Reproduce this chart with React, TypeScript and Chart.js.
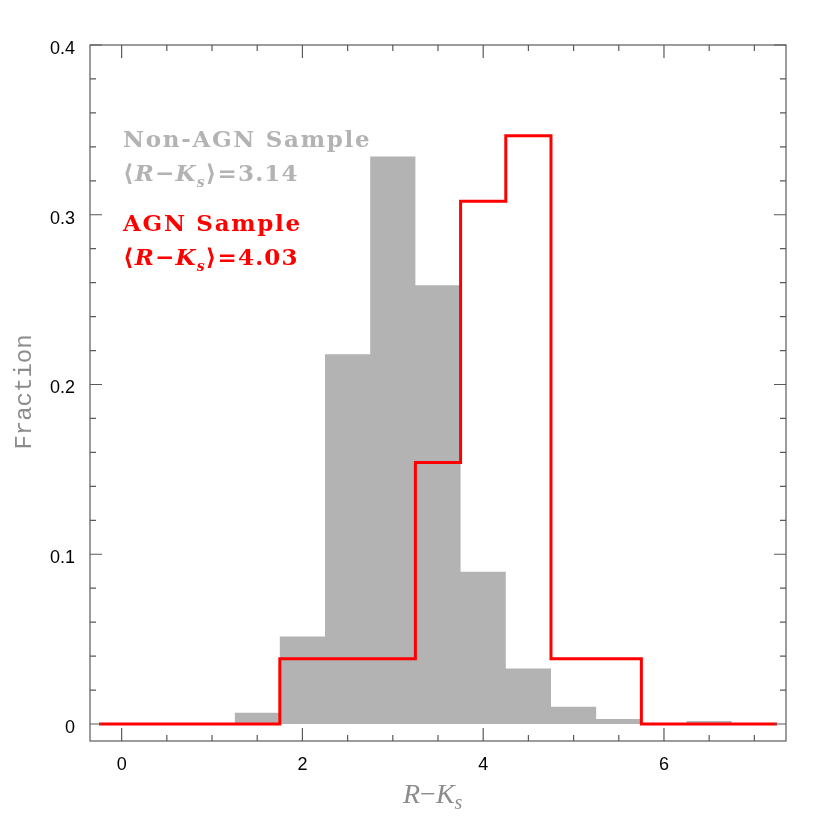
import React, { useEffect, useRef } from "react";
import { Chart, registerables } from "chart.js";

Chart.register(...registerables);

// ---- data ----
const nonAgnBinStarts = [1.25, 1.75, 2.25, 2.75, 3.25, 3.75, 4.25, 4.75, 5.25, 5.75, 6.25];
const nonAgnBinEnd = 6.75;
const nonAgnFractions = [0.0067, 0.0516, 0.2179, 0.3343, 0.2585, 0.0897, 0.0327, 0.0102, 0.003, 0, 0.0018];

const agnBinStarts = [-0.25, 1.75, 3.25, 3.75, 4.25, 4.75, 5.75];
const agnBinEnd = 7.25;
const agnFractions = [0, 0.0385, 0.154, 0.308, 0.3465, 0.0385, 0];

const xTickValues = [0, 2, 4, 6];
const xMinorStep = 0.5;
const yTickValues = [0, 0.1, 0.2, 0.3, 0.4];
const yMinorStep = 0.02;
const xRange = [-0.35, 7.35];
const yRange = [-0.01, 0.4];

const nonAgnTitle = "Non-AGN Sample";
const nonAgnMean = "3.14";
const agnTitle = "AGN Sample";
const agnMean = "4.03";
const yTitle = "Fraction";

// step points: value at each bin's left edge, plus the final right edge
function steps(starts: number[], end: number, vals: number[]) {
  const pts = starts.map((x, i) => ({ x, y: vals[i] }));
  pts.push({ x: end, y: vals[vals.length - 1] });
  return pts;
}

type Part = { t: string; font: string; dy?: number };
function drawParts(ctx: CanvasRenderingContext2D, parts: Part[], x: number, y: number, color: string) {
  ctx.fillStyle = color;
  ctx.textBaseline = "alphabetic";
  ctx.textAlign = "left";
  let cx = x;
  for (const p of parts) {
    ctx.font = p.font;
    ctx.fillText(p.t, cx, y + (p.dy || 0));
    cx += ctx.measureText(p.t).width;
  }
}

function meanParts(val: string, size: number, weight: string): Part[] {
  const fam = "'DejaVu Serif'";
  const n = `${weight} ${size}px ${fam}`;
  const it = `italic ${weight} ${size}px ${fam}`;
  const sub = `italic ${weight} ${Math.round(size * 0.62)}px ${fam}`;
  return [
    { t: "\u27E8", font: n },
    { t: "R", font: it },
    { t: "\u2212", font: n },
    { t: "K", font: it },
    { t: "s", font: sub, dy: 6 },
    { t: "\u27E9=" + val, font: n },
  ];
}

const framePlugin = {
  id: "frameTicks",
  afterDatasetsDraw(chart: any) {
    const ctx: CanvasRenderingContext2D = chart.ctx;
    const { left, right, top, bottom } = chart.chartArea;
    const xs = chart.scales.x;
    const ys = chart.scales.y;
    ctx.save();
    ctx.strokeStyle = "#5a5a5a";
    ctx.lineWidth = 1.2;
    ctx.strokeRect(left, top, right - left, bottom - top);
    ctx.beginPath();
    for (let v = Math.ceil(xRange[0] / xMinorStep) * xMinorStep; v <= xRange[1]; v += xMinorStep) {
      const px = xs.getPixelForValue(v);
      const major = xTickValues.some((t) => Math.abs(t - v) < 1e-6);
      const len = major ? 13 : 6;
      ctx.moveTo(px, bottom);
      ctx.lineTo(px, bottom - len);
      ctx.moveTo(px, top);
      ctx.lineTo(px, top + len);
    }
    for (let i = 0; i * yMinorStep <= yRange[1] + 1e-9; i++) {
      const v = i * yMinorStep;
      const py = ys.getPixelForValue(v);
      const major = yTickValues.some((t) => Math.abs(t - v) < 1e-6);
      const len = major ? 12 : 6;
      ctx.moveTo(left, py);
      ctx.lineTo(left + len, py);
      ctx.moveTo(right, py);
      ctx.lineTo(right - len, py);
    }
    ctx.stroke();

    // annotations
    const gray = "#b3b3b3";
    const red = "#ff0000";
    ctx.textBaseline = "alphabetic";
    (ctx as any).letterSpacing = "1.7px";
    ctx.fillStyle = gray;
    ctx.font = "bold 23px 'DejaVu Serif'";
    ctx.fillText(nonAgnTitle, 123, 147);
    ctx.fillStyle = red;
    ctx.fillText(agnTitle, 123, 231);
    (ctx as any).letterSpacing = "1.2px";
    drawParts(ctx, meanParts(nonAgnMean, 23, "bold"), 123, 181, gray);
    drawParts(ctx, meanParts(agnMean, 23, "bold"), 123, 265, red);
    (ctx as any).letterSpacing = "0px";

    // axis titles
    ctx.fillStyle = "#8c8c8c";
    ctx.save();
    ctx.translate(31, 392);
    ctx.rotate(-Math.PI / 2);
    ctx.font = "24px 'Liberation Mono'";
    ctx.textAlign = "center";
    ctx.textBaseline = "alphabetic";
    ctx.fillText(yTitle, 0, 0);
    ctx.restore();
    drawParts(
      ctx,
      [
        { t: "R", font: "italic 28px 'Liberation Serif'" },
        { t: "\u2212", font: "28px 'Liberation Serif'" },
        { t: "K", font: "italic 28px 'Liberation Serif'" },
        { t: "s", font: "italic 20px 'Liberation Serif'", dy: 6 },
      ],
      403,
      803,
      "#8c8c8c"
    );
    ctx.restore();
  },
};

export default function App() {
  const ref = useRef<HTMLCanvasElement | null>(null);
  useEffect(() => {
    if (!ref.current) return;
    const chart = new Chart(ref.current, {
      type: "line",
      data: {
        datasets: [
          {
            data: steps(agnBinStarts, agnBinEnd, agnFractions),
            stepped: "before",
            borderColor: "#ff0000",
            borderWidth: 3,
            pointRadius: 0,
            fill: false,
          },
          {
            data: steps(nonAgnBinStarts, nonAgnBinEnd, nonAgnFractions),
            stepped: "before",
            borderColor: "rgba(0,0,0,0)",
            borderWidth: 0,
            backgroundColor: "#b3b3b3",
            fill: "origin",
            pointRadius: 0,
          },
        ],
      },
      options: {
        animation: false,
        responsive: false,
        layout: { padding: { left: 0, top: 45, right: 44, bottom: 0 } },
        plugins: {
          legend: { display: false },
          tooltip: { enabled: false },
        },
        scales: {
          x: {
            type: "linear",
            min: xRange[0],
            max: xRange[1],
            grid: { display: false, drawTicks: false },
            border: { display: false },
            ticks: {
              color: "#000",
              font: { family: "'Liberation Sans'", size: 18 },
              padding: 13,
              maxRotation: 0,
              callback: (v: any) => String(v),
            },
            afterBuildTicks: (s: any) => {
              s.ticks = xTickValues.map((v) => ({ value: v }));
            },
            afterFit: (s: any) => {
              s.height = 89;
            },
          },
          y: {
            type: "linear",
            min: yRange[0],
            max: yRange[1],
            grid: { display: false, drawTicks: false },
            border: { display: false },
            ticks: {
              color: "#000",
              font: { family: "'Liberation Sans'", size: 18 },
              padding: 15,
              labelOffset: 4,
              callback: (v: any) => (v === 0 ? "0" : Number(v).toFixed(1)),
            },
            afterBuildTicks: (s: any) => {
              s.ticks = yTickValues.map((v) => ({ value: v }));
            },
            afterFit: (s: any) => {
              s.width = 90;
            },
          },
        },
      },
      plugins: [framePlugin],
    });
    return () => chart.destroy();
  }, []);
  return (
    <div style={{ position: "absolute", left: 0, top: 0, width: 830, height: 830, background: "#fff" }}>
      <canvas ref={ref} width={830} height={830} style={{ width: 830, height: 830, display: "block" }} />
    </div>
  );
}
